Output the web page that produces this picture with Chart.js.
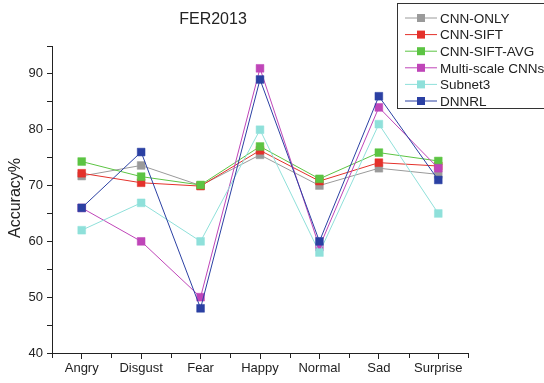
<!DOCTYPE html>
<html>
<head>
<meta charset="utf-8">
<script src="https://cdn.jsdelivr.net/npm/chart.js@4/dist/chart.umd.min.js"></script>
<style>
  html, body { margin: 0; padding: 0; background: #fff; }
  #wrap { width: 544px; height: 383px; position: relative; }
</style>
</head>
<body>
<div id="wrap"><canvas id="fer"></canvas></div>
<script>
// values
const categories = ["Angry", "Disgust", "Fear", "Happy", "Normal", "Sad", "Surprise"];
const seriesNames = ["CNN-ONLY", "CNN-SIFT", "CNN-SIFT-AVG", "Multi-scale CNNs", "Subnet3", "DNNRL"];
const cnnOnly    = [71.7, 73.6, 70.0, 75.5, 70.0, 73.1, 72.0];
const cnnSift    = [72.2, 70.5, 69.9, 76.3, 70.8, 74.1, 73.5];
const cnnSiftAvg = [74.3, 71.6, 70.1, 77.0, 71.2, 75.9, 74.4];
const multiScale = [66.0, 60.0, 50.0, 91.0, 59.0, 84.0, 73.1];
const subnet3    = [62.0, 66.9, 60.0, 80.0, 58.0, 81.0, 65.0];
const dnnrl      = [66.0, 76.0, 48.0, 89.0, 60.0, 86.0, 71.0];
const yTicks = [40, 50, 60, 70, 80, 90];

const seriesValues = [cnnOnly, cnnSift, cnnSiftAvg, multiScale, subnet3, dnnrl];
const colors = ["#9a9a9a", "#e4312b", "#5cc443", "#bf45b8", "#8fe0da", "#2b40a3"];
const FONT = "'Liberation Sans', Arial, sans-serif";

const datasets = seriesNames.map((name, i) => ({
  label: name,
  data: seriesValues[i],
  borderColor: colors[i],
  backgroundColor: colors[i],
  borderWidth: 1,
  pointStyle: "rect",
  pointRadius: 5.5,
  pointBorderWidth: 0.5,
  pointBorderColor: colors[i],
  tension: 0,
  fill: false,
  order: seriesNames.length - 1 - i,
}));

// title, y title, boxed legend, minor x ticks
const decor = {
  id: "decor",
  afterDraw(chart) {
    const c = chart.ctx;
    const xs = chart.scales.x;
    const area = chart.chartArea;
    c.save();
    c.fillStyle = "#222";
    c.font = "16px " + FONT;
    c.textAlign = "center";
    c.textBaseline = "middle";
    c.fillText("FER2013", 213, 20);

    c.save();
    c.translate(16, 198);
    c.rotate(-Math.PI / 2);
    c.fillText("Accuracy%", 0, 0);
    c.restore();

    // in-between ticks on x axis
    c.strokeStyle = "#222";
    c.lineWidth = 1;
    const step = xs.getPixelForValue(1) - xs.getPixelForValue(0);
    c.beginPath();
    for (let i = 0; i <= categories.length; i++) {
      const px = Math.round(xs.getPixelForValue(i) - step / 2) + 0.5;
      c.moveTo(px, area.bottom);
      c.lineTo(px, area.bottom + 5);
    }
    c.stroke();

    // legend box
    const bx = 397.5, by = 3.5, bw = 160, bh = 105;
    c.fillStyle = "#fff";
    c.fillRect(bx, by, bw, bh);
    c.strokeStyle = "#333";
    c.strokeRect(bx, by, bw, bh);
    c.font = "13.5px " + FONT;
    c.textAlign = "left";
    chart.data.datasets.forEach((ds, i) => {
      const y = 18 + i * 16.6;
      c.strokeStyle = ds.borderColor;
      c.beginPath();
      c.moveTo(405, y);
      c.lineTo(437, y);
      c.stroke();
      c.fillStyle = ds.backgroundColor;
      c.fillRect(417, y - 4, 8, 8);
      c.fillStyle = "#222";
      c.fillText(ds.label, 440, y + 1);
    });
    c.restore();
  }
};

const ctx = document.getElementById("fer").getContext("2d");
const feChart = new Chart(ctx, {
  type: "line",
  data: { labels: categories, datasets: datasets },
  options: {
    responsive: true,
    maintainAspectRatio: false,
    animation: false,
    layout: { padding: { top: 46, right: 76, left: 0, bottom: 0 } },
    scales: {
      x: {
        offset: true,
        grid: { drawOnChartArea: false, offset: false, tickLength: 6, color: "#222" },
        border: { color: "#222", width: 1 },
        ticks: { color: "#222", font: { family: FONT, size: 13 }, padding: 2, maxRotation: 0, autoSkip: false },
        afterFit(s) { s.height = 30; },
      },
      y: {
        min: 40,
        max: 95,
        grid: { drawOnChartArea: false, tickLength: 5, color: "#222" },
        border: { color: "#222", width: 1 },
        ticks: {
          stepSize: 5,
          color: "#222",
          padding: 4,
          font: { family: FONT, size: 13 },
          callback: v => yTicks.includes(v) ? v : "",
        },
        afterFit(s) { s.width = 52; },
      },
    },
    plugins: {
      legend: { display: false },
      tooltip: { enabled: false },
    },
  },
  plugins: [decor],
});
</script>
</body>
</html>
